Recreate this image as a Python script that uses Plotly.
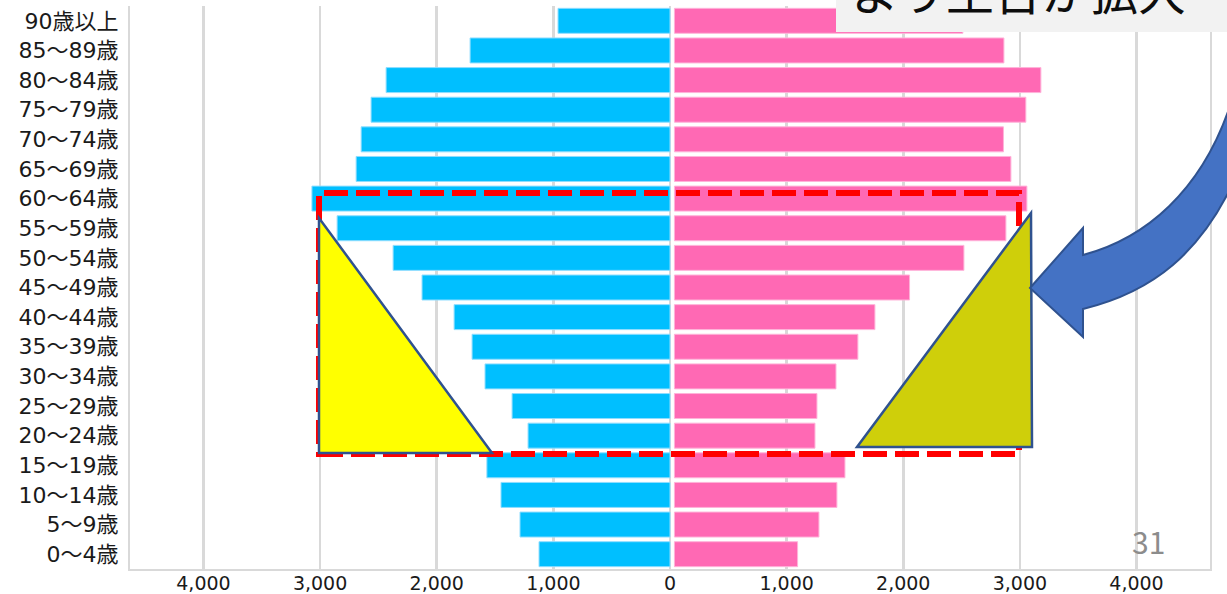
import plotly.graph_objects as go

# ---------------- data ----------------
age_groups = ["0～4歳", "5～9歳", "10～14歳", "15～19歳", "20～24歳", "25～29歳",
              "30～34歳", "35～39歳", "40～44歳", "45～49歳", "50～54歳", "55～59歳",
              "60～64歳", "65～69歳", "70～74歳", "75～79歳", "80～84歳", "85～89歳",
              "90歳以上"]
male = [1123, 1286, 1449, 1570, 1217, 1354, 1586, 1697, 1851, 2126, 2374, 2854,
        3070, 2691, 2648, 2563, 2434, 1714, 960]
female = [1094, 1277, 1431, 1500, 1243, 1260, 1423, 1611, 1757, 2054, 2520, 2880,
          3060, 2923, 2859, 3051, 3180, 2863, 2511]
tick_vals = [-4000, -3000, -2000, -1000, 0, 1000, 2000, 3000, 4000]
tick_text = ["4,000", "3,000", "2,000", "1,000", "0", "1,000", "2,000", "3,000", "4,000"]
callout_text = "より土台が拡大"
page_no = "31"

# ---------------- layout geometry (pixels) ----------------
W, H = 1227, 594
ML, MR, MT, MB = 130, 17, 6, 25
PW, PH = W - ML - MR, H - MT - MB
FEMALE_BASE = 38  # small visual gap right of the zero line
LABEL_FONT = "DejaVu Sans, Noto Sans CJK JP"


def px(x):
    return (x - ML) / PW


def py(y):
    return (H - MB - y) / PH


def P(a, b):
    return f"{px(a):.5f},{py(b):.5f}"


def poly(pts):
    return "M " + " L ".join(P(a, b) for a, b in pts) + " Z"


fig = go.Figure()
fig.add_trace(go.Bar(
    y=age_groups, x=[-v for v in male], orientation="h", name="男",
    marker=dict(color="#00BFFF", line=dict(color="#8FDDFF", width=1)),
    hoverinfo="skip"))
fig.add_trace(go.Bar(
    y=age_groups, x=[v - FEMALE_BASE for v in female], base=FEMALE_BASE,
    orientation="h", name="女",
    marker=dict(color="#FF69B4", line=dict(color="#FFB3D9", width=1)),
    hoverinfo="skip"))

grid = "#D9D9D9"
fig.update_layout(
    width=W, height=H,
    margin=dict(l=ML, r=MR, t=MT, b=MB, pad=0, autoexpand=False),
    paper_bgcolor="white", plot_bgcolor="white",
    barmode="overlay", bargap=0.157, showlegend=False,
    font=dict(family=LABEL_FONT, color="#1a1a1a"),
)
fig.update_xaxes(
    range=[-4630, 4630], tickvals=tick_vals, ticktext=tick_text,
    showgrid=True, gridcolor=grid, gridwidth=2.5,
    zeroline=True, zerolinecolor=grid, zerolinewidth=2.5,
    showline=True, linecolor=grid, linewidth=2,
    tickfont=dict(size=19, color="#1a1a1a", family=LABEL_FONT),
    ticks="", ticklabelstandoff=-4,
    automargin=False, fixedrange=True,
)
fig.update_yaxes(
    categoryorder="array", categoryarray=age_groups,
    showgrid=False, zeroline=False,
    showline=True, mirror=True, linecolor=grid, linewidth=2,
    tickfont=dict(size=22, color="#1a1a1a", family=LABEL_FONT), ticks="",
    ticklabelstandoff=5, automargin=False, fixedrange=True,
)

shapes = []
# red dashed rectangle
shapes.append(dict(type="rect", xref="paper", yref="paper",
                   x0=px(319), x1=px(1019), y0=py(454), y1=py(193),
                   line=dict(color="#FF0000", width=6, dash="24px,8px"),
                   fillcolor="rgba(0,0,0,0)", layer="above"))
# left yellow triangle
shapes.append(dict(type="path", xref="paper", yref="paper",
                   path=poly([(319, 218), (319, 453), (492, 453)]),
                   fillcolor="#FFFF00", line=dict(color="#2F528F", width=2.5),
                   layer="above"))
# right olive triangle
shapes.append(dict(type="path", xref="paper", yref="paper",
                   path=poly([(1031, 213), (1032, 447), (857, 447)]),
                   fillcolor="#CFCF0A", line=dict(color="#2F528F", width=2.5),
                   layer="above"))
# curved blue arrow
arrow = (f"M {P(1030, 288)} L {P(1083, 228)} L {P(1083, 255)} "
         f"C {P(1140, 240)} {P(1205, 195)} {P(1235, 90)} "
         f"L {P(1300, 90)} L {P(1300, 140)} L {P(1250, 140)} "
         f"C {P(1210, 262)} {P(1140, 295)} {P(1083, 309)} "
         f"L {P(1083, 337)} Z")
shapes.append(dict(type="path", xref="paper", yref="paper", path=arrow,
                   fillcolor="#4472C4", line=dict(color="#2F528F", width=2),
                   layer="above"))
# grey call-out box (cut by top edge)
shapes.append(dict(type="rect", xref="paper", yref="paper",
                   x0=px(836), x1=px(1260), y0=py(32), y1=py(-80),
                   fillcolor="#F2F2F2", line=dict(width=0), layer="above"))
fig.update_layout(shapes=shapes)

fig.add_annotation(xref="paper", yref="paper", x=px(1018), y=py(-11),
                   text=callout_text, showarrow=False,
                   xanchor="center", yanchor="middle",
                   font=dict(size=48, color="#0d0d0d", family="Noto Sans CJK JP"))
fig.add_annotation(xref="paper", yref="paper", x=px(1148), y=py(541),
                   text=page_no, showarrow=False,
                   xanchor="center", yanchor="middle",
                   font=dict(size=30, color="#8C8C8C", family="Noto Sans CJK JP"))

fig.write_html("out.html",
               config={"displayModeBar": False, "staticPlot": True},
               post_script="document.body.style.margin='0';"
                           "document.body.style.overflow='hidden';")
